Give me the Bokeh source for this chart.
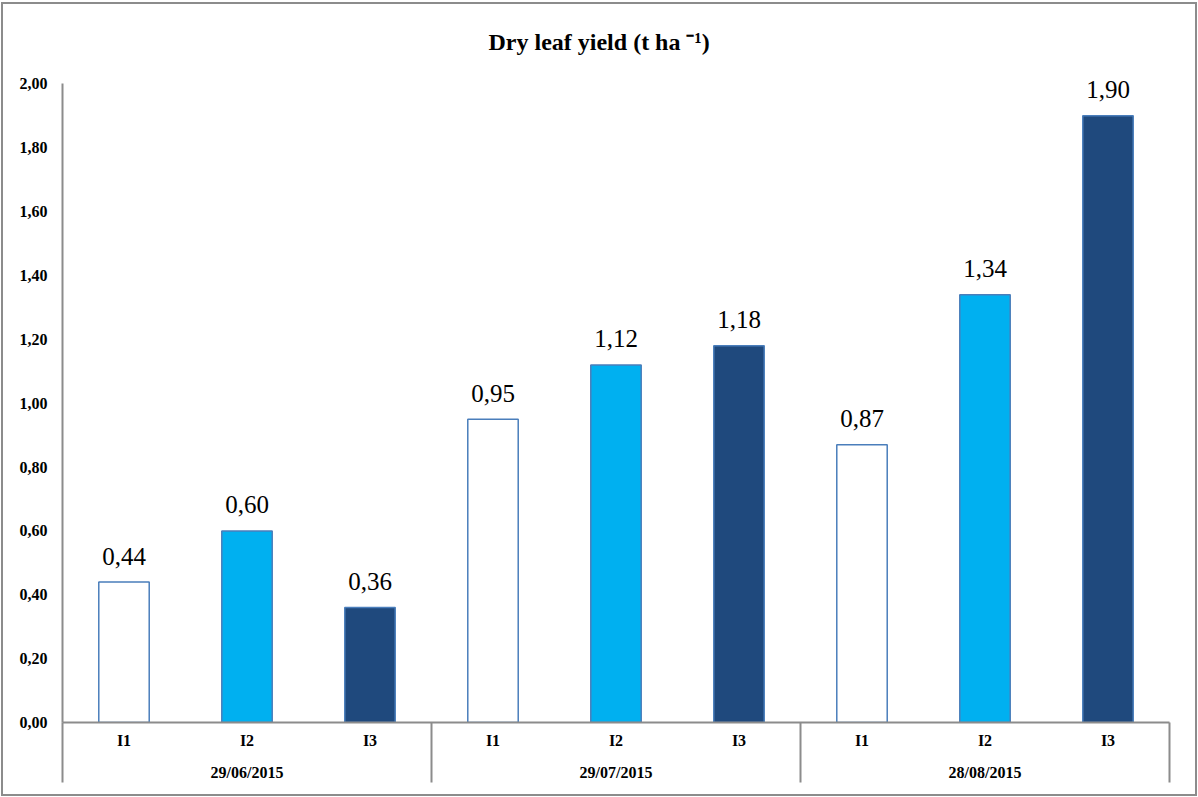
import numpy as np
from bokeh.plotting import figure
from bokeh.models import Range1d, FixedTicker, LinearAxis, CustomJSTickFormatter, ColumnDataSource, InlineStyleSheet
from bokeh.core.properties import value
from bokeh.embed import file_html
from bokeh.resources import INLINE

# ---- data ----
dates = ["29/06/2015", "29/07/2015", "28/08/2015"]
treatments = ["I1", "I2", "I3"]
yield_2906 = [0.44, 0.60, 0.36]
yield_2907 = [0.95, 1.12, 1.18]
yield_2808 = [0.87, 1.34, 1.90]
treatment_colors = ["#FFFFFF", "#00B0F0", "#1F497D"]
y_ticks = [0.0, 0.2, 0.4, 0.6, 0.8, 1.0, 1.2, 1.4, 1.6, 1.8, 2.0]
y_min, y_max = 0.0, 2.0

values = yield_2906 + yield_2907 + yield_2808
n_groups = len(dates)
n_t = len(treatments)
xs = np.arange(n_groups * n_t) + 0.5
src = ColumnDataSource(dict(
    x=xs,
    top=values,
    color=treatment_colors * n_groups,
    label=[f"{v:.2f}".replace(".", ",") for v in values],
))

SERIF = "'Liberation Serif', 'Times New Roman', serif"
GRID = "#8C8C8C"

# small headroom above the last gridline so the top data label is not clipped
p = figure(
    width=1196, height=794,
    x_range=Range1d(0, n_groups * n_t), y_range=Range1d(y_min, y_max * 1.01),
    output_backend="svg", toolbar_location=None,
    x_axis_type=None, y_axis_type=None,
    title="Dry leaf yield (t ha \u207b\u00b9)",
)
p.min_border_left = 61
p.min_border_right = 28
p.min_border_top = 75
p.min_border_bottom = 74
p.outline_line_color = None
p.background_fill_color = "white"
p.border_fill_color = "white"
p.stylesheets = [InlineStyleSheet(css=(
    ":host { margin-left: 1px; margin-top: 2px; }"
    ":host::after { content: ''; position: absolute; left: 0; top: 0; right: 0; bottom: 0;"
    " border: 2px solid #8C8C8C; pointer-events: none; z-index: 50; }"
))]

p.title.align = "left"
p.title.text_font = SERIF
p.title.text_font_style = "bold"
p.title.text_font_size = "24px"
p.title.text_color = "black"
p.title.offset = 426
p.title.standoff = 46

# y axis
yaxis = LinearAxis(ticker=FixedTicker(ticks=y_ticks), bounds=(y_min, y_max),
                   formatter=CustomJSTickFormatter(code="return tick.toFixed(2).replace('.', ',');"))
yaxis.axis_line_color = GRID
yaxis.axis_line_width = 2
yaxis.major_tick_line_color = None
yaxis.minor_tick_line_color = None
yaxis.major_tick_out = 0
yaxis.major_tick_in = 0
yaxis.minor_tick_out = 0
yaxis.minor_tick_in = 0
yaxis.major_label_standoff = 15
yaxis.major_label_text_font = SERIF
yaxis.major_label_text_font_style = "bold"
yaxis.major_label_text_font_size = "16px"
yaxis.major_label_text_color = "black"
p.add_layout(yaxis, "left")

p.ygrid.ticker = FixedTicker(ticks=y_ticks)
p.ygrid.grid_line_color = GRID
p.ygrid.grid_line_width = 1.5
p.xgrid.visible = False

# x axis with treatment labels; group separators drawn as long minor ticks
boundaries = [float(i * n_t) for i in range(n_groups + 1)]
xaxis1 = LinearAxis(
    ticker=FixedTicker(ticks=list(xs), minor_ticks=boundaries),
    formatter=CustomJSTickFormatter(args=dict(labels=treatments * n_groups), code="return labels[index];"),
)
xaxis1.axis_line_color = GRID
xaxis1.axis_line_width = 2
xaxis1.major_tick_line_color = None
xaxis1.major_tick_out = 0
xaxis1.major_tick_in = 0
xaxis1.minor_tick_line_color = GRID
xaxis1.minor_tick_line_width = 2
xaxis1.minor_tick_in = 0
xaxis1.minor_tick_out = 60
xaxis1.major_label_standoff = -51
xaxis1.major_label_text_font = SERIF
xaxis1.major_label_text_font_style = "bold"
xaxis1.major_label_text_font_size = "16px"
xaxis1.major_label_text_color = "black"
p.add_layout(xaxis1, "below")

# x axis with date labels
group_centers = [i * n_t + n_t / 2 for i in range(n_groups)]
xaxis2 = LinearAxis(
    ticker=FixedTicker(ticks=group_centers),
    formatter=CustomJSTickFormatter(args=dict(labels=dates), code="return labels[index];"),
)
xaxis2.axis_line_color = None
xaxis2.major_tick_line_color = None
xaxis2.minor_tick_line_color = None
xaxis2.major_tick_out = 0
xaxis2.major_tick_in = 0
xaxis2.minor_tick_out = 0
xaxis2.minor_tick_in = 0
xaxis2.major_label_standoff = 12
xaxis2.major_label_text_font = SERIF
xaxis2.major_label_text_font_style = "bold"
xaxis2.major_label_text_font_size = "16px"
xaxis2.major_label_text_color = "black"
p.add_layout(xaxis2, "below")

# bars
p.vbar(x="x", top="top", bottom=0, width=0.41, source=src,
       fill_color="color", line_color="#4A7EBB", line_width=1.5)

# data labels
p.text(x="x", y="top", text="label", source=src,
       text_font=value(SERIF), text_font_size="25px", text_color="black",
       text_align="center", text_baseline="alphabetic", y_offset=-26)

open("out.html", "w").write(file_html(p, INLINE))
